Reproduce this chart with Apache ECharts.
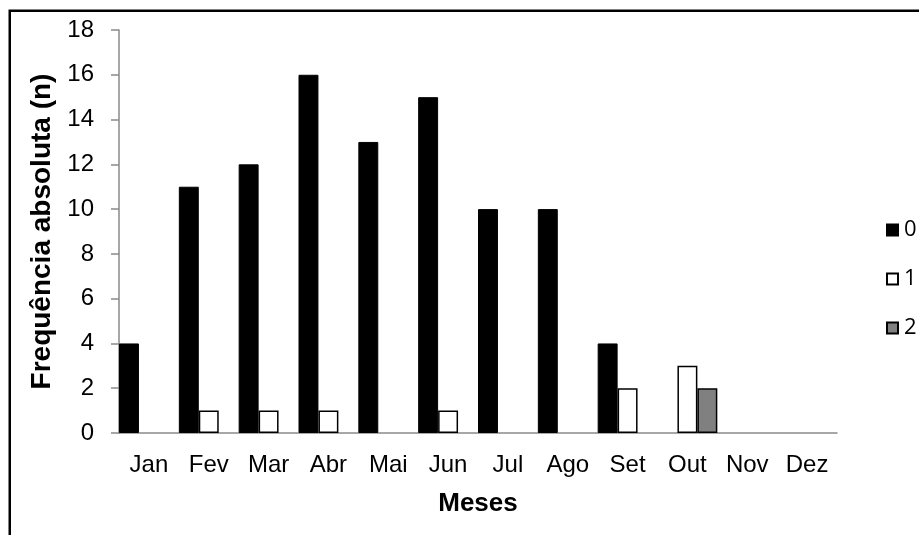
<!DOCTYPE html>
<html>
<head>
<meta charset="utf-8">
<script src="https://cdn.jsdelivr.net/npm/echarts@6/dist/echarts.min.js"></script>
<style>
  html, body { margin: 0; padding: 0; background: #fff; }
  #chart { width: 919px; height: 535px; }
</style>
</head>
<body>
<div id="chart"></div>
<script>
// Monthly absolute frequency by class (0, 1, 2)
const months = ['Jan', 'Fev', 'Mar', 'Abr', 'Mai', 'Jun', 'Jul', 'Ago', 'Set', 'Out', 'Nov', 'Dez'];
const class0 = [4, 11, 12, 16, 13, 15, 10, 10, 4, 0, 0, 0];
const class1 = [0, 1, 1, 1, 0, 1, 0, 0, 2, 3, 0, 0];
const class2 = [0, 0, 0, 0, 0, 0, 0, 0, 0, 2, 0, 0];
const yTicks = { min: 0, max: 18, interval: 2 };

// empty months get no bar at all (avoids an outline on the baseline)
const bars = arr => arr.map(v => (v === 0 ? '-' : v));

const chart = echarts.init(document.getElementById('chart'), null, { renderer: 'canvas' });

const axisGray = '#8a8a8a';
const font = '"Liberation Sans", Arial, sans-serif';

chart.setOption({
  animation: false,
  backgroundColor: '#ffffff',
  graphic: [{
    type: 'rect',
    shape: { x: 9.75, y: 10.75, width: 1000, height: 1000 },
    style: { fill: 'none', stroke: '#000', lineWidth: 2.5 },
    silent: true
  }],
  grid: { left: 119, right: 82, top: 30, bottom: 102 },
  legend: {
    orient: 'vertical',
    left: 881,
    top: 214,
    itemWidth: 11,
    itemHeight: 11,
    itemGap: 27,
    icon: 'rect',
    textStyle: { fontFamily: '"Open Sans", "Noto Sans", sans-serif', fontSize: 22, color: '#000', padding: [0, 0, 0, 1] },
    data: ['0', '1', '2']
  },
  xAxis: {
    type: 'category',
    data: months,
    name: 'Meses',
    nameLocation: 'middle',
    nameGap: 58,
    nameTextStyle: { fontFamily: font, fontSize: 26, fontWeight: 'bold', color: '#000' },
    axisLine: { lineStyle: { color: axisGray, width: 1.5 } },
    axisTick: { length: 7, lineStyle: { color: axisGray, width: 1.5 } },
    axisLabel: { fontFamily: font, fontSize: 24, color: '#000', margin: 20 },
    splitLine: { show: false }
  },
  yAxis: {
    type: 'value',
    min: yTicks.min,
    max: yTicks.max,
    interval: yTicks.interval,
    name: 'Frequência absoluta (n)',
    nameLocation: 'middle',
    nameGap: 62,
    nameTextStyle: { fontFamily: font, fontSize: 28, fontWeight: 'bold', color: '#000' },
    axisLine: { show: true, lineStyle: { color: axisGray, width: 1.5 } },
    axisTick: { show: true, length: 8, lineStyle: { color: axisGray, width: 1.5 } },
    axisLabel: { fontFamily: font, fontSize: 24, color: '#000', margin: 25 },
    splitLine: { show: false }
  },
  series: [
    {
      name: '0', type: 'bar', data: bars(class0),
      barGap: '0%', barCategoryGap: '0%',
      itemStyle: { color: '#000', borderColor: '#000', borderWidth: 1 }
    },
    {
      name: '1', type: 'bar', data: bars(class1),
      barGap: '0%', barCategoryGap: '0%',
      itemStyle: { color: '#fff', borderColor: '#000', borderWidth: 1.5 }
    },
    {
      name: '2', type: 'bar', data: bars(class2),
      barGap: '0%', barCategoryGap: '0%',
      itemStyle: { color: '#808080', borderColor: '#000', borderWidth: 1.5 }
    }
  ]
});
</script>
</body>
</html>
